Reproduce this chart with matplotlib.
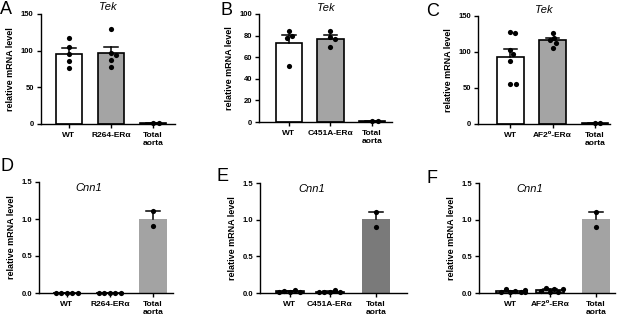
import numpy as np
import matplotlib
matplotlib.use("Agg")
import matplotlib.pyplot as plt

plt.rcParams['font.family'] = ['Liberation Sans', 'DejaVu Sans']

# data
a_labels = ['WT', 'R264-ERα', 'Total\naorta']
b_labels = ['WT', 'C451A-ERα', 'Total\naorta']
c_labels = ['WT', 'AF2⁰-ERα', 'Total\naorta']

a_wt = [117, 105, 95, 86, 77]
a_mut = [129, 97, 94, 87, 78]
a_tot = [1.1, 0.9]

b_wt = [84, 80, 78, 52]
b_mut = [84, 79, 77, 69]
b_tot = [1.1, 0.9]

c_wt = [128, 126, 103, 97, 88, 55, 55]
c_mut = [127, 120, 116, 113, 106]
c_tot = [1.1, 0.9]

d_wt = [0.003, 0.004, 0.005, 0.006, 0.002]
d_mut = [0.002, 0.004, 0.003, 0.005, 0.003]
d_tot = [1.11, 0.90]

e_wt = [0.01, 0.045, 0.025, 0.015, 0.02]
e_mut = [0.01, 0.04, 0.02, 0.015, 0.01]
e_tot = [1.11, 0.90]

f_wt = [0.01, 0.03, 0.055, 0.02, 0.015, 0.035, 0.01]
f_mut = [0.01, 0.06, 0.065, 0.03, 0.02, 0.055]
f_tot = [1.11, 0.90]

W, H = 617, 317
fig = plt.figure(figsize=(W / 100, H / 100), dpi=100)


def px_rect(l, r, t, b):
    return [l / W, 1 - b / H, (r - l) / W, (b - t) / H]


def swarm(vals, xc, ax, xlim, ylim, diam=5.2):
    # simple beeswarm in pixel space
    bbox = ax.get_position()
    sx = bbox.width * W / (xlim[1] - xlim[0])
    sy = bbox.height * H / (ylim[1] - ylim[0])
    placed = []
    xs = []
    for v in vals:
        py = v * sy
        for k in range(0, 60):
            off = (k + 1) // 2 * 0.5 * (1 if k % 2 else -1)
            ok = all((off - qx) ** 2 + (py - qy) ** 2 >= diam ** 2 for qx, qy in placed)
            if ok:
                break
        placed.append((off, py))
        xs.append(xc + off / sx)
    return xs


def panel(rect, groups, labels, pos, colors, edges, width, xlim, ylim, yticks, ytl,
          title, title_xy, letter, letter_xy, tick_len=3):
    ax = fig.add_axes(rect)
    for vals, x, c, e in zip(groups, pos, colors, edges):
        m = np.mean(vals)
        sem = np.std(vals, ddof=1) / np.sqrt(len(vals))
        ax.bar(x, m, width=width, color=c, edgecolor=e, linewidth=1.2, zorder=1)
        ax.plot([x, x], [m, m + sem], color='black', lw=1.1, zorder=2, clip_on=False)
        ax.plot([x - width * 0.25, x + width * 0.25], [m + sem, m + sem], color='black',
                lw=1.1, zorder=2, clip_on=False)
        xs = swarm(vals, x, ax, xlim, ylim)
        ax.scatter(xs, vals, s=14, color='black', zorder=3, clip_on=False, linewidths=0)
    ax.set_xlim(*xlim)
    ax.set_ylim(*ylim)
    ax.set_xticks(pos)
    ax.set_xticklabels(labels, fontsize=6, fontweight='bold', linespacing=1.05)
    ax.set_yticks(yticks)
    ax.set_yticklabels(ytl, fontsize=5.5, fontweight='bold')
    ax.set_ylabel('relative mRNA level', fontsize=6.5, fontweight='bold', labelpad=4)
    for s in ['top', 'right']:
        ax.spines[s].set_visible(False)
    for s in ['left', 'bottom']:
        ax.spines[s].set_linewidth(1.0)
    ax.tick_params(length=tick_len, width=1.0, pad=2)
    ax.tick_params(axis='x', pad=3)
    ax.text(title_xy[0], title_xy[1], title, transform=ax.transAxes, ha='center',
            va='center', fontsize=8, style='italic')
    fig.text(letter_xy[0] / W, 1 - letter_xy[1] / H, letter, fontsize=13,
             ha='left', va='top')
    return ax


top_cols = ['white', '#a4a4a4', '#a4a4a4']
top_edges = ['black', 'black', 'black']

panel(px_rect(40.7, 175, 14, 124), [a_wt, a_mut, a_tot], a_labels, [0, 1, 2],
      top_cols, top_edges, 0.63, (-0.67, 2.52), (0, 150), [0, 50, 100, 150],
      ['0', '50', '100', '150'], 'Tek', (0.5, 1.06), 'A', (0, 1))
panel(px_rect(259, 392, 14, 122), [b_wt, b_mut, b_tot], b_labels, [0, 1, 2],
      top_cols, top_edges, 0.64, (-0.72, 2.48), (0, 100), [0, 20, 40, 60, 80, 100],
      ['0', '20', '40', '60', '80', '100'], 'Tek', (0.5, 1.06), 'B', (220, 2))
panel(px_rect(478, 610, 16, 124), [c_wt, c_mut, c_tot], c_labels, [0, 1, 2],
      top_cols, top_edges, 0.63, (-0.77, 2.36), (0, 150), [0, 50, 100, 150],
      ['0', '50', '100', '150'], 'Tek', (0.5, 1.06), 'C', (426, 3))

bot_ticks = [0, 0.5, 1.0, 1.5]
bot_tl = ['0.0', '0.5', '1.0', '1.5']
panel(px_rect(39, 173, 182, 293), [d_wt, d_mut, d_tot], a_labels, [0, 1, 2],
      ['white', '#a4a4a4', '#a3a3a3'], ['black', 'black', 'none'], 0.66,
      (-0.65, 2.47), (0, 1.5), bot_ticks, bot_tl, 'Cnn1', (0.37, 0.95), 'D', (0, 158))
panel(px_rect(260, 407, 183, 293), [e_wt, e_mut, e_tot], b_labels, [0, 1, 2.15],
      ['white', '#a4a4a4', '#7a7a7a'], ['black', 'black', 'none'], 0.7,
      (-0.75, 2.93), (0, 1.5), bot_ticks, bot_tl, 'Cnn1', (0.35, 0.95), 'E', (216, 168))
panel(px_rect(479, 615, 183, 293), [f_wt, f_mut, f_tot], c_labels, [0, 1, 2.15],
      ['white', '#a4a4a4', '#a3a3a3'], ['black', 'black', 'none'], 0.7,
      (-0.78, 2.63), (0, 1.5), bot_ticks, bot_tl, 'Cnn1', (0.375, 0.95), 'F', (426, 170))

fig.savefig('out.png', dpi=100)
